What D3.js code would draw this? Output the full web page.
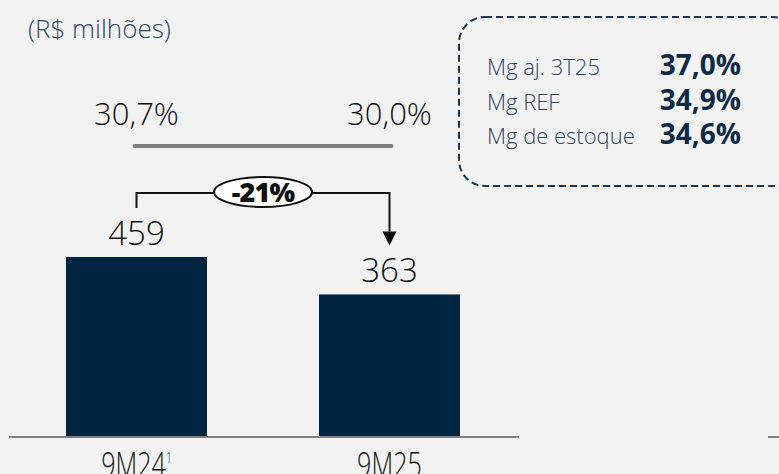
<!DOCTYPE html>
<html>
<head>
<meta charset="utf-8">
<script src="https://cdn.jsdelivr.net/npm/d3@7"></script>
<style>
  html, body { margin: 0; padding: 0; background: #f2f2f2; }
  svg { display: block; }
</style>
</head>
<body>
<svg id="chart" width="779" height="474"></svg>
<script>
// Lucro bruto (R$ milhões) e margens
const categories = ["9M24", "9M25"];
const categorySup = ["1", ""];
const values = [459, 363];
const margins = ["30,7%", "30,0%"];
const changeLabel = "-21%";
const boxLabels = ["Mg aj. 3T25", "Mg REF", "Mg de estoque"];
const boxValues = ["37,0%", "34,9%", "34,6%"];

const W = 779, H = 474;
const navy = "#002540";
const font = "'Open Sans', Lato, sans-serif";

const svg = d3.select("#chart");

const baseY = 436;
const x = d3.scaleBand().domain(categories).range([66, 460]).paddingInner(0.4427).paddingOuter(0);
const y = d3.scaleLinear().domain([0, 500]).range([baseY, baseY - 195]);

// unit label
svg.append("text").attr("x", 28).attr("y", 38)
  .attr("font-family", font).attr("font-weight", 300).attr("font-size", 26)
  .attr("fill", "#2d4764").text("(R$ milhões)");

// bars
svg.selectAll("rect.bar").data(values).join("rect")
  .attr("class", "bar")
  .attr("x", (d, i) => x(categories[i]))
  .attr("width", x.bandwidth())
  .attr("y", d => y(d))
  .attr("height", d => baseY - y(d))
  .attr("fill", navy);

// baseline
svg.append("line").attr("x1", 9).attr("x2", 519).attr("y1", baseY + 1).attr("y2", baseY + 1)
  .attr("stroke", "#808080").attr("stroke-width", 2);
svg.append("line").attr("x1", 768).attr("x2", 779).attr("y1", baseY + 1).attr("y2", baseY + 1)
  .attr("stroke", "#808080").attr("stroke-width", 2);

const cx = i => x(categories[i]) + x.bandwidth() / 2;

// value labels
svg.selectAll("text.val").data(values).join("text")
  .attr("class", "val")
  .attr("x", (d, i) => cx(i))
  .attr("y", d => y(d) - 12)
  .attr("text-anchor", "middle")
  .attr("font-family", font).attr("font-weight", 300).attr("font-size", 33)
  .attr("fill", "#111").text(d => d);

// category labels (condensed)
const cat = svg.selectAll("text.cat").data(categories).join("text")
  .attr("class", "cat")
  .attr("transform", (d, i) => `translate(${cx(i)},477) scale(0.74,1)`)
  .attr("text-anchor", "middle")
  .attr("font-family", font).attr("font-weight", 300).attr("font-size", 34)
  .attr("fill", "#111");
cat.append("tspan").text(d => d);
cat.append("tspan").attr("dy", -14).attr("font-size", 14).text((d, i) => categorySup[i]);

// margin labels and connecting line
svg.selectAll("text.mg").data(margins).join("text")
  .attr("class", "mg")
  .attr("x", (d, i) => cx(i))
  .attr("y", 125)
  .attr("text-anchor", "middle")
  .attr("font-family", font).attr("font-weight", 300).attr("font-size", 31)
  .attr("fill", "#111").text(d => d);
svg.append("line").attr("x1", cx(0) - 2).attr("x2", cx(1) + 2).attr("y1", 146).attr("y2", 146)
  .attr("stroke", "#7f7f7f").attr("stroke-width", 4).attr("stroke-linecap", "round");

// change bracket with arrow
const by = 193;
svg.append("path")
  .attr("d", `M${cx(0)},${y(values[0]) - 49} V${by} H${cx(1)} V${y(values[1]) - 63}`)
  .attr("fill", "none").attr("stroke", "#111").attr("stroke-width", 2);
svg.append("path")
  .attr("d", `M${cx(1) - 7},${y(values[1]) - 63} L${cx(1) + 7},${y(values[1]) - 63} L${cx(1)},${y(values[1]) - 49} Z`)
  .attr("fill", "#111");
const ex = (cx(0) + cx(1)) / 2;
svg.append("ellipse").attr("cx", ex).attr("cy", by - 1).attr("rx", 49).attr("ry", 15)
  .attr("fill", "#fff").attr("stroke", "#111").attr("stroke-width", 2);
svg.append("text").attr("x", ex).attr("y", by + 9)
  .attr("text-anchor", "middle")
  .attr("font-family", font).attr("font-weight", 800).attr("font-size", 27)
  .attr("letter-spacing", -0.8)
  .attr("fill", "#111").text(changeLabel);

// margin detail box
svg.append("rect").attr("x", 459).attr("y", 17).attr("width", 340).attr("height", 169)
  .attr("rx", 26).attr("ry", 26)
  .attr("fill", "none").attr("stroke", "#1c3550").attr("stroke-width", 2)
  .attr("stroke-dasharray", "7,4");

const rowY = d3.scalePoint().domain(boxLabels).range([75, 144]);
svg.selectAll("text.bl").data(boxLabels).join("text")
  .attr("class", "bl")
  .attr("x", 487).attr("y", d => rowY(d))
  .attr("font-family", font).attr("font-weight", 300).attr("font-size", 22)
  .attr("fill", "#2c4460").text(d => d);
svg.selectAll("text.bv").data(boxValues).join("text")
  .attr("class", "bv")
  .attr("x", 741).attr("y", (d, i) => rowY(boxLabels[i]))
  .attr("text-anchor", "end")
  .attr("font-family", font).attr("font-weight", 700).attr("font-size", 28)
  .attr("fill", "#0f2a45").text(d => d);
</script>
</body>
</html>
